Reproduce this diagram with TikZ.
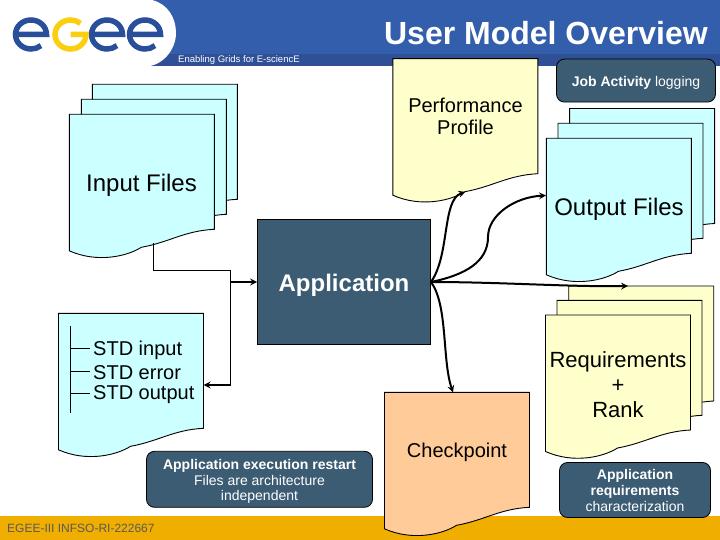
\documentclass[tikz,border=0pt]{standalone}
\usepackage{fontspec}
\setmainfont{Liberation Sans}
\definecolor{headblue}{HTML}{335EAB}
\definecolor{stripblue}{HTML}{2F4F96}
\definecolor{logoblue}{HTML}{2A4F9A}
\definecolor{logoyellow}{HTML}{FBCF0F}
\definecolor{footgold}{HTML}{EFAE00}
\definecolor{boxblue}{HTML}{3B5C73}
\definecolor{cyansheet}{HTML}{CCFFFF}
\definecolor{yellowsheet}{HTML}{FFFFCC}
\definecolor{orangesheet}{HTML}{FFCC99}
\newcommand{\px}[1]{\fontsize{#1}{#1}\selectfont}
\tikzset{
	sheet/.style={draw=black,line width=0.9pt},
	sheetbox/.style={inner sep=0pt,minimum width=145pt,minimum height=133pt},
	txt/.style={inner sep=0pt,align=center,text=black,font=\px{20}},
	note/.style={draw=black,line width=0.8pt,fill=boxblue,rounded corners=8pt,inner sep=0pt,
		align=center,text=white,font=\px{14}},
	thinline/.style={line width=1pt},
	flow/.style={line width=2pt,->}
}
% one sheet with a wavy lower edge, #2,#3 = top left corner
\newcommand{\docsheet}[4]{%
	\begin{scope}[shift={(#2,#3)}]
		\draw[sheet,fill=#4] (0,0) -- (145,0) -- (145,115) .. controls (115,116.5) and (100,128) .. (72,133)
			.. controls (58,142) and (28,149) .. (0,136.5) -- cycle;
		\node[sheetbox] (#1) at (72.5,66.5) {};
	\end{scope}}
\begin{document}
\begin{tikzpicture}[>=stealth,x=1pt,y=-1pt]
	\useasboundingbox (0,0) rectangle (720,540);
	% footer and header
	\fill[footgold] (0,516) rectangle (720,540);
	\fill[headblue] (0,0) rectangle (720,66.5);
	\fill[stripblue] (140,54) rectangle (720,66.5);
	\fill[white] (0,0) -- (152,0) .. controls (168,4) and (176,18) .. (176,33)
		.. controls (176,50) and (162,66.5) .. (145,66.5) -- (0,66.5) -- cycle;
	% logo
	\foreach \cx in {31,107,145}{
		\draw[logoblue,line width=5.5pt] (\cx-15.5,34.5) -- (\cx+15.5,34.5) arc[start angle=0,end angle=310,x radius=15.5,y radius=-14.5];
	}
	\draw[logoyellow,line width=5.5pt] (70.5,34.5) -- (86,34.5) arc[start angle=0,end angle=310,x radius=15.5,y radius=14.5];
	\node[inner sep=0pt,anchor=east,text=white,font=\px{32}\bfseries] (title) at (708,33) {User Model Overview};
	\node[inner sep=0pt,anchor=west,text=white,font=\px{9.5}] (tagline) at (178,60) {Enabling Grids for E-sciencE};
	\node[inner sep=0pt,anchor=west,text=black!65,font=\px{12}] (project) at (7,528) {EGEE-III INFSO-RI-222667};

	% sheets, back to front
	\docsheet{inputc}{92.3}{84.3}{cyansheet}
	\docsheet{inputb}{81.3}{99.3}{cyansheet}
	\docsheet{input}{69.3}{114.3}{cyansheet}
	\docsheet{perf}{392.8}{58.7}{yellowsheet}
	\docsheet{outputc}{569.6}{108.5}{cyansheet}
	\docsheet{outputb}{558}{123.3}{cyansheet}
	\docsheet{output}{546.4}{138.3}{cyansheet}
	\docsheet{reqc}{568.7}{286}{yellowsheet}
	\docsheet{reqb}{557}{300.3}{yellowsheet}
	\docsheet{req}{545.5}{315}{yellowsheet}
	\docsheet{stdio}{58.5}{313.3}{cyansheet}
	\docsheet{ckpt}{384.5}{392.3}{orangesheet}

	\node[note,minimum width=159pt,minimum height=43pt] (joblog) at (636,80.6) {\rule{0pt}{14pt}\textbf{Job Activity} logging};
	\node[note,minimum width=226pt,minimum height=56pt] (restart) at (259.5,479.3) {\rule{0pt}{15pt}\textbf{Application execution restart}\\[1.5pt]Files are architecture\\[1.5pt]independent};
	\node[note,minimum width=151pt,minimum height=55pt] (appreq) at (635,490) {\textbf{Application}\\[2pt]\textbf{requirements}\\[2pt]characterization};
	\node[draw=black,line width=0.9pt,fill=boxblue,inner sep=0pt,minimum width=173pt,minimum height=125.5pt,text=white,font=\px{24}\bfseries] (app) at (344,282) {\rule{0pt}{24pt}Application};

	\node[txt,font=\px{24}] (inputtxt) at (141.5,185) {Input Files};
	\node[txt,font=\px{24}] (outputtxt) at (619,209) {Output Files};
	\node[txt] (perftxt) at (465.5,116) {Performance\\[2pt]Profile};
	\node[txt,font=\px{22}] (reqtxt) at (618,384.5) {Requirements\\[3pt]+\\[3pt]Rank};
	\node[txt] (ckpttxt) at (457,452) {Checkpoint};
	\foreach \n/\yy/\lab in {a/350/STD input,b/372.5/STD error,c/395/STD output}{
		\node[txt,anchor=west] (std\n) at (93,\yy) {\lab};
	}
	\coordinate (treetop) at (70,326);
	\coordinate (treeend) at (70,412.5);
	\draw[thinline] (treetop) -- (treeend);
	\foreach \n/\yy in {a/348,b/371,c/393}{
		\coordinate (twig\n) at (70,\yy);
		\draw[thinline] (twig\n) -- ++(20,0);
	}

	% connectors
	\coordinate (inputout) at (153.5,243);
	\coordinate (corner) at (230.7,270);
	\coordinate (appbranch) at (230.7,282);
	\coordinate (stdbranch) at (230.7,385);
	\draw[thinline] (inputout) |- (corner) -- (stdbranch);
	\draw[flow] (appbranch) -- (app.west);
	\draw[flow] (stdbranch) -- (stdbranch -| stdio.east);
	\coordinate (outputin) at (546,195.5);
	\coordinate (bend) at (488,237);
	\coordinate (reqin) at (628,286);
	\coordinate (ckptin) at (453,392.3);
	\draw[flow] (app.east) .. controls (450,255) and (442,200) .. (perf.south);
	\draw[flow] (app.east) .. controls (465,275) and (488,262) .. (bend) .. controls (488,215) and (515,197) .. (outputin);
	\draw[flow] (app.east) .. controls (500,282) and (570,287) .. (reqin);
	\draw[flow] (app.east) .. controls (448,305) and (442,360) .. (ckptin);
\end{tikzpicture}
\end{document}
